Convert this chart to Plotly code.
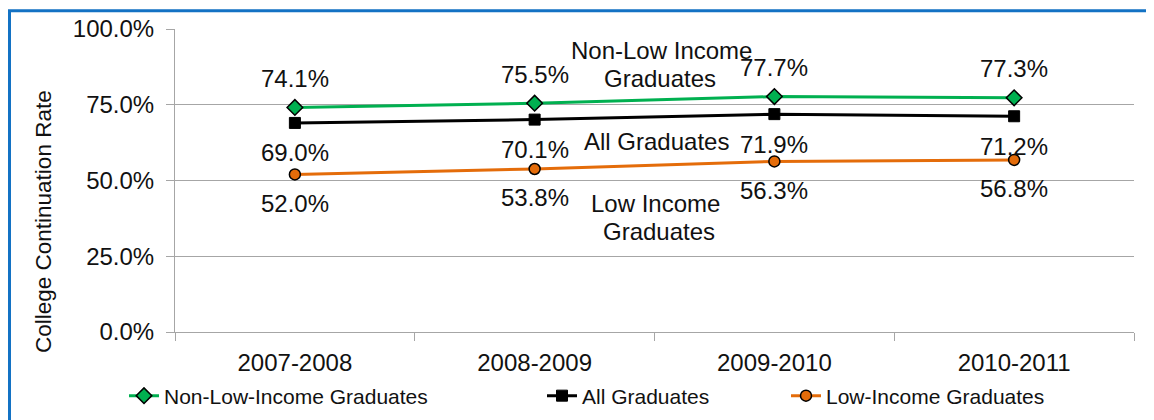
import plotly.graph_objects as go

years = ["2007-2008", "2008-2009", "2009-2010", "2010-2011"]
non_low = [0.741, 0.755, 0.777, 0.773]
all_grads = [0.690, 0.701, 0.719, 0.712]
low_inc = [0.520, 0.538, 0.563, 0.568]
y_ticks = [0, 0.25, 0.5, 0.75, 1.0]

GREEN = "#00B050"
BLACK = "#000000"
ORANGE = "#E46C0A"
BLUE = "#1372C4"
GRID = "#A6A6A6"
TXT = "#111111"
FONT = "Liberation Sans, Arial, sans-serif"

# the page body adds an 8px offset; work in screen pixels and convert
OFF = 8
W, H = 1154 - OFF, 420 - OFF
L, R, T, B = 175 - OFF, 20, 29 - OFF, 88
PW, PH = W - L - R, H - T - B


def px(xs):
    return (xs - OFF - L) / PW


def py(ys):
    return (H - B - (ys - OFF)) / PH


fig = go.Figure()
fig.add_trace(go.Scatter(
    x=years, y=non_low, name="Non-Low-Income Graduates", mode="lines+markers",
    line=dict(color=GREEN, width=3),
    marker=dict(symbol="diamond", size=12, color=GREEN, line=dict(color=BLACK, width=1.5)),
    legend="legend2"))
fig.add_trace(go.Scatter(
    x=years, y=all_grads, name="All Graduates", mode="lines+markers",
    line=dict(color=BLACK, width=3),
    marker=dict(symbol="square", size=11, color=BLACK, line=dict(color=BLACK, width=1)),
    legend="legend3"))
fig.add_trace(go.Scatter(
    x=years, y=low_inc, name="Low-Income Graduates", mode="lines+markers",
    line=dict(color=ORANGE, width=3),
    marker=dict(symbol="circle", size=11, color=ORANGE, line=dict(color=BLACK, width=1.5)),
    legend="legend4"))

ann = []
for vals, shift in ((non_low, 29), (all_grads, -30), (low_inc, -29)):
    for x, v in zip(years, vals):
        ann.append(dict(x=x, y=v, xref="x", yref="y", text=f"{v*100:.1f}%", showarrow=False,
                        yshift=shift, font=dict(size=24, color=TXT, family=FONT)))

for text, xs, ys in (("Non-Low Income", 661, 50.5),
                     ("Graduates", 660, 78.5),
                     ("All Graduates", 656.5, 141.7),
                     ("Low Income", 655, 203),
                     ("Graduates", 659, 231)):
    ann.append(dict(x=px(xs), y=py(ys), xref="paper", yref="paper", text=text, showarrow=False,
                    xanchor="center", yanchor="middle",
                    font=dict(size=24, color=TXT, family=FONT)))

ann.append(dict(x=px(43), y=py(222), xref="paper", yref="paper",
                text="College Continuation Rate", textangle=-90, showarrow=False,
                xanchor="center", yanchor="middle",
                font=dict(size=22.5, color=TXT, family=FONT)))

legfont = dict(size=21, color=TXT, family=FONT)


def leg(xs):
    return dict(x=px(xs), y=py(396), xanchor="left", yanchor="middle", font=legfont,
                bgcolor="rgba(0,0,0,0)", borderwidth=0)


fig.update_layout(
    width=W, height=H,
    margin=dict(l=L, r=R, t=T, b=B, autoexpand=False),
    paper_bgcolor="white", plot_bgcolor="white",
    font=dict(family=FONT, color=TXT),
    annotations=ann,
    showlegend=True,
    legend=dict(visible=False),
    legend2=leg(124),
    legend3=leg(542),
    legend4=leg(786),
    shapes=[dict(type="rect", xref="paper", yref="paper",
                 x0=px(9.5), x1=px(1170), y0=py(440), y1=py(10.7),
                 line=dict(color=BLUE, width=3), fillcolor="rgba(0,0,0,0)", layer="above")],
    xaxis=dict(type="category", range=[-0.5, 3.5], showgrid=False, showline=True,
               linecolor=GRID, linewidth=1, ticks="outside", tickson="boundaries",
               ticklen=8, tickcolor=GRID, ticklabelstandoff=9,
               tickfont=dict(size=24, color=TXT, family=FONT)),
    yaxis=dict(range=[0, 1], tickvals=y_ticks, tickformat=".1%", showgrid=True,
               gridcolor=GRID, gridwidth=1, showline=True, linecolor=GRID, linewidth=1,
               ticks="outside", ticklen=8, tickcolor=GRID, zeroline=False,
               ticklabelstandoff=7,
               tickfont=dict(size=24, color=TXT, family=FONT)),
)
fig.write_html("out.html")
